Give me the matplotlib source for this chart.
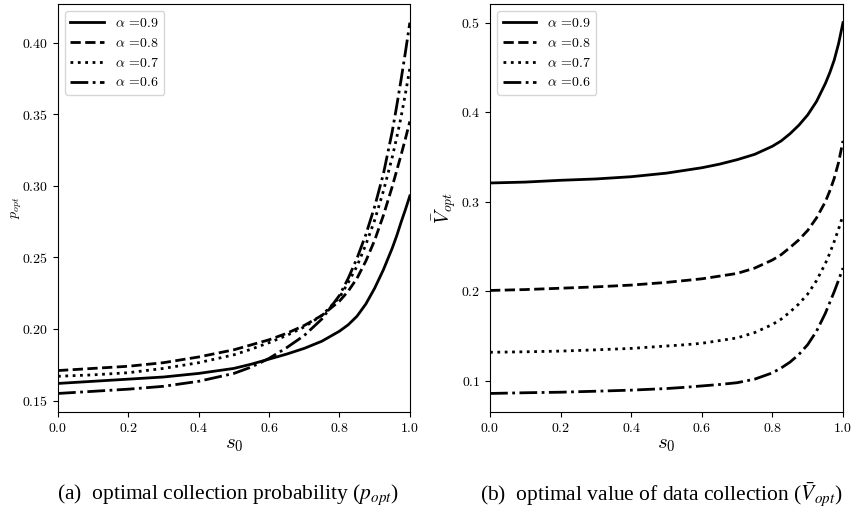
import matplotlib
matplotlib.use("Agg")
import matplotlib.pyplot as plt

plt.rcParams['font.family'] = 'cmr10'
plt.rcParams['mathtext.fontset'] = 'cm'
plt.rcParams['axes.formatter.use_mathtext'] = True

# values
s0 = [0.0, 0.1, 0.2, 0.3, 0.4, 0.5, 0.55, 0.6, 0.65, 0.7, 0.75, 0.8, 0.825, 0.85,
      0.875, 0.9, 0.925, 0.95, 0.9625, 0.975, 0.9875, 1.0]
alphas = ['0.9', '0.8', '0.7', '0.6']

# (a) optimal collection probability
p_09 = [0.162, 0.1635, 0.165, 0.1665, 0.169, 0.1725, 0.1755, 0.179, 0.1825, 0.1865, 0.1915,
        0.1985, 0.203, 0.209, 0.2175, 0.2285, 0.2415, 0.2565, 0.265, 0.2745, 0.2835, 0.293]
p_08 = [0.171, 0.1725, 0.174, 0.1765, 0.1805, 0.1855, 0.189, 0.1925, 0.197, 0.2025, 0.2095,
        0.2195, 0.2265, 0.2355, 0.2475, 0.262, 0.2795, 0.2995, 0.3105, 0.3215, 0.333, 0.345]
p_07 = [0.167, 0.168, 0.1695, 0.1725, 0.1765, 0.182, 0.186, 0.1905, 0.1955, 0.2015, 0.2095,
        0.222, 0.2325, 0.244, 0.259, 0.276, 0.2965, 0.320, 0.3335, 0.348, 0.3645, 0.382]
p_06 = [0.155, 0.1565, 0.158, 0.160, 0.1635, 0.169, 0.1735, 0.1795, 0.187, 0.1955, 0.207,
        0.2235, 0.2355, 0.2495, 0.266, 0.2855, 0.3085, 0.338, 0.3555, 0.374, 0.3935, 0.414]

# (b) optimal value of data collection
v_09 = [0.321, 0.322, 0.324, 0.3255, 0.328, 0.332, 0.335, 0.338, 0.342, 0.347, 0.353,
        0.362, 0.368, 0.376, 0.3855, 0.397, 0.412, 0.432, 0.444, 0.458, 0.4765, 0.500]
v_08 = [0.201, 0.202, 0.2035, 0.205, 0.207, 0.210, 0.212, 0.214, 0.217, 0.220, 0.226,
        0.235, 0.241, 0.249, 0.2575, 0.268, 0.282, 0.300, 0.312, 0.326, 0.344, 0.368]
v_07 = [0.132, 0.1325, 0.1333, 0.1347, 0.1363, 0.139, 0.1403, 0.142, 0.145, 0.148, 0.154,
        0.163, 0.169, 0.177, 0.186, 0.197, 0.212, 0.231, 0.2425, 0.2555, 0.2695, 0.285]
v_06 = [0.086, 0.0868, 0.0874, 0.0885, 0.0897, 0.0915, 0.0928, 0.0944, 0.096, 0.098, 0.102,
        0.109, 0.1145, 0.121, 0.1295, 0.1405, 0.1555, 0.1755, 0.1875, 0.1995, 0.2125, 0.226]

styles = ['-', '--', ':', '-.']

fig = plt.figure(figsize=(8.54, 5.15), dpi=100)
ax1 = fig.add_axes([0.0679, 0.2, 0.412, 0.792])
ax2 = fig.add_axes([0.5738, 0.2, 0.4133, 0.792])

for ys, ls, a in zip([p_09, p_08, p_07, p_06], styles, alphas):
    ax1.plot(s0, ys, color='black', linestyle=ls, linewidth=2, label=r'$\alpha$ =' + a)
for ys, ls, a in zip([v_09, v_08, v_07, v_06], styles, alphas):
    ax2.plot(s0, ys, color='black', linestyle=ls, linewidth=2, label=r'$\alpha$ =' + a)

for ax in (ax1, ax2):
    ax.set_xlim(0, 1)
    ax.set_xticks([0.0, 0.2, 0.4, 0.6, 0.8, 1.0])
    ax.tick_params(labelsize=10)
    ax.set_xlabel(r'$s_0$', fontsize=15, labelpad=1)
    ax.legend(loc='upper left', fontsize=10, handlelength=2.4)

ax1.set_ylabel(r'$p_{opt}$', fontsize=10, labelpad=-1)
ax2.set_ylabel(r'$\bar{V}_{opt}$', fontsize=14, labelpad=2)

fig.text(0.267, 0.039, r'(a)  optimal collection probability ($p_{opt}$)',
         fontsize=15.5, family='Liberation Serif', math_fontfamily='stix',
         ha='center', va='center')
fig.text(0.774, 0.039, r'(b)  optimal value of data collection ($\bar{V}_{opt}$)',
         fontsize=15.5, family='Liberation Serif', math_fontfamily='stix',
         ha='center', va='center')

fig.savefig('out.png', dpi=100)
